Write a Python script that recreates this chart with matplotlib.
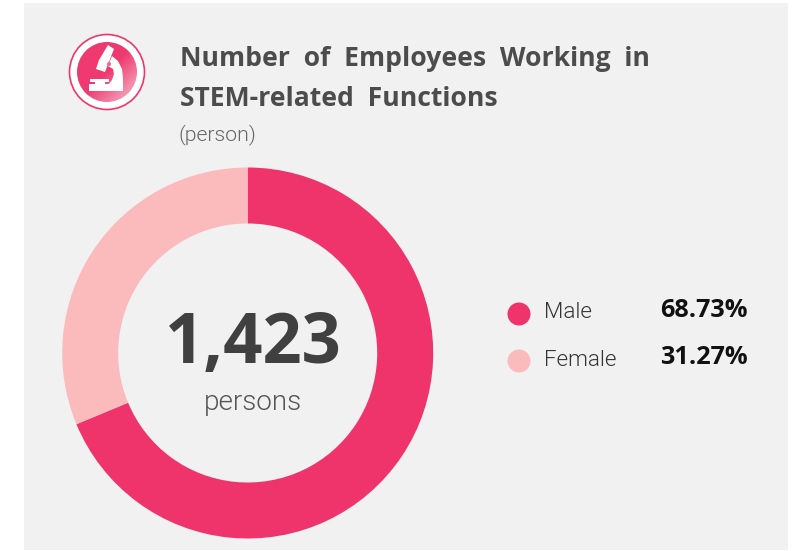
import numpy as np
import matplotlib.pyplot as plt
from matplotlib.colors import LinearSegmentedColormap
from matplotlib.patches import Circle, Polygon, Rectangle

W, H = 795, 551

title_lines = ["Number  of  Employees  Working  in", "STEM-related  Functions"]
unit = "(person)"
categories = ["Male", "Female"]
shares = [68.73, 31.27]
share_labels = ["68.73%", "31.27%"]
total = "1,423"
total_unit = "persons"
colors = ["#EF346B", "#FBBBBD"]
panel = "#F1F1F1"
dark = "#404040"

fig = plt.figure(figsize=(W / 100, H / 100), dpi=100, facecolor="white")

# whole figure in pixel coords, y going down
bg = fig.add_axes([0, 0, 1, 1])
bg.set_xlim(0, W)
bg.set_ylim(H, 0)
bg.axis("off")
bg.add_patch(Rectangle((24, 3), 764, 547, fc=panel, ec="none"))

# donut
cx, cy, r = 247.7, 353, 185.5
ax = fig.add_axes([(cx - r) / W, 1 - (cy + r) / H, 2 * r / W, 2 * r / H])
ax.pie(shares, colors=colors, startangle=90, counterclock=False, radius=1,
       wedgeprops=dict(width=56 / r, linewidth=0))
ax.set_xlim(-1, 1)
ax.set_ylim(-1, 1)
ax.set_aspect("equal")
ax.axis("off")

bg2 = fig.add_axes([0, 0, 1, 1], facecolor="none")
bg2.set_xlim(0, W)
bg2.set_ylim(H, 0)
bg2.axis("off")

# center text
bg2.text(253.5, 344.5, total, fontsize=49.5, fontweight="bold", family="Open Sans",
         color=dark, ha="center", va="center")
bg2.text(252.5, 402, total_unit, fontsize=20, fontweight=300, family="Roboto",
         color="#555555", ha="center", va="center")

# title
bg2.text(180, 58.5, title_lines[0], fontsize=19.1, fontweight="bold", family="Open Sans",
         color="#4C4C4C", ha="left", va="center")
bg2.text(180, 99, title_lines[1], fontsize=19.1, fontweight="bold", family="Open Sans",
         color="#4C4C4C", ha="left", va="center")
bg2.text(179, 135, unit, fontsize=15.3, fontweight=300, family="Roboto",
         color="#666666", ha="left", va="center")

# legend
for y, name, lab, c in zip([314, 361], categories, share_labels, colors):
    bg2.add_patch(Circle((519, y), 11.5, fc=c, ec="none"))
    bg2.text(544, y - 1, name, fontsize=16.1, fontweight=300, family="Roboto",
             color="#333333", ha="left", va="center")
    bg2.text(748, y - 3.5, lab, fontsize=18.2, fontweight="bold", family="Open Sans",
             color="#111111", ha="right", va="center")

# icon
icx, icy = 107, 72
bg2.add_patch(Circle((icx, icy), 37.5, fc="white", ec="#F0356B", lw=1.2))
cmap = LinearSegmentedColormap.from_list("icon", ["#EE3A70", "#EE3A70", "#F5BFCC"])
gx, gy = np.meshgrid(np.linspace(0, 1, 80), np.linspace(0, 1, 80))
grad = bg2.imshow((gx + gy) / 2, cmap=cmap, extent=(icx - 30, icx + 30, icy + 30, icy - 30),
                  aspect="auto", zorder=2)
grad.set_clip_path(Circle((icx, icy), 30, transform=bg2.transData))
bg2.set_xlim(0, W)
bg2.set_ylim(H, 0)

scope = [(108, 45), (114, 49), (105, 72), (96, 69), (99, 60)]
arm = [(112, 56), (118, 61), (122, 69), (123, 78), (123, 85), (108, 85), (112, 80),
       (114, 74), (113, 69), (108, 66)]
plate = [(90, 79), (109, 79), (109, 82), (105, 82), (105, 85), (95, 85), (95, 82), (90, 82)]
for pts in (scope, arm, plate):
    bg2.add_patch(Polygon(pts, closed=True, fc="white", ec="none", zorder=3))
bg2.add_patch(Rectangle((89, 84), 34, 7, fc="white", ec="none", zorder=3))
bg2.add_patch(Circle((109, 64), 2, fc="#F0628C", ec="none", zorder=4))

fig.savefig("out.png", dpi=100)
